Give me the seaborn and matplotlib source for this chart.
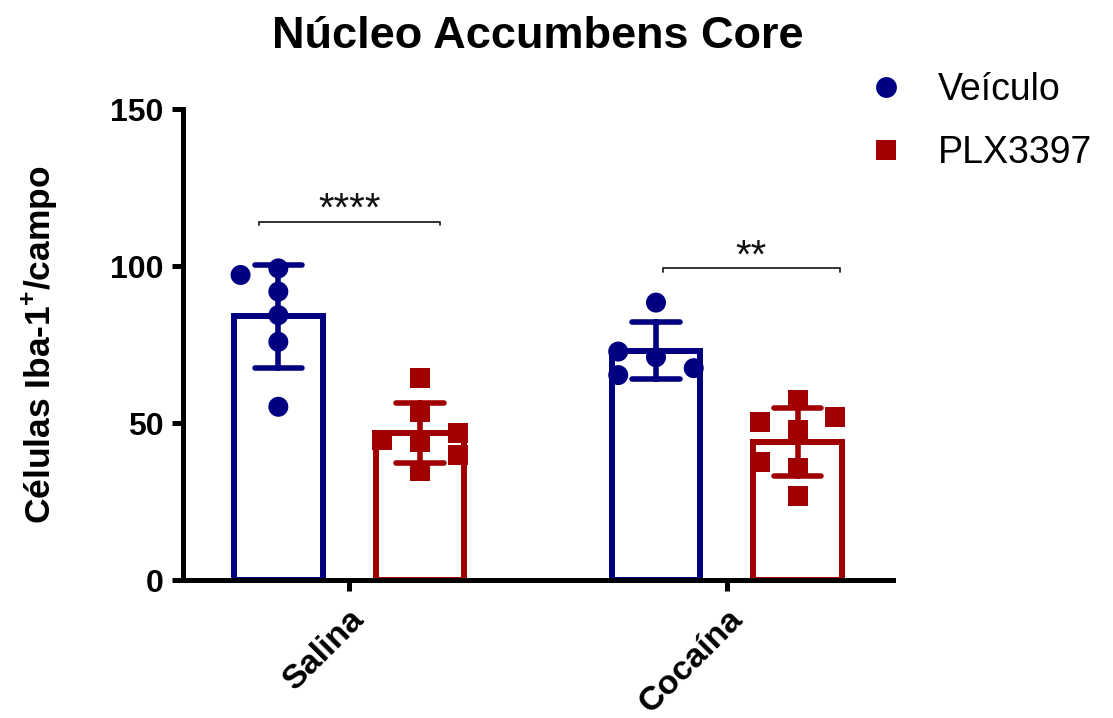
import numpy as np
import pandas as pd
import matplotlib
matplotlib.use("Agg")
import matplotlib.pyplot as plt
from matplotlib.lines import Line2D
import seaborn as sns

# Iba-1+ cell counts per field, Nucleus Accumbens Core
groups = ["Salina", "Cocaína"]
treatments = ["Veículo", "PLX3397"]
salina_veiculo = [99.3, 91.9, 84.4, 75.9, 55.2, 97.2]
salina_plx = [44.1, 53.6, 64.3, 44.6, 46.9, 39.8, 34.7]
cocaina_veiculo = [71.0, 88.4, 72.8, 67.5, 65.3]
cocaina_plx = [47.8, 35.6, 26.8, 50.4, 57.4, 52.0, 37.7]
y_ticks = [0, 50, 100, 150]

# significance annotations: label, bracket height, span around each group
sig_labels = ["****", "**"]
sig_heights = [114.2, 99.3]
sig_spans = [(-0.24, 0.24), (-0.17, 0.30)]

colors = {"Veículo": "#000080", "PLX3397": "#a00000"}
markers = {"Veículo": "o", "PLX3397": "s"}

sns.set_style("white")
plt.rcParams["font.family"] = ["Liberation Sans", "DejaVu Sans"]
plt.rcParams["mathtext.fontset"] = "custom"
plt.rcParams["mathtext.rm"] = "Liberation Sans"
plt.rcParams["mathtext.bf"] = "Liberation Sans:bold"
for key in ["text.color", "axes.labelcolor", "xtick.color", "ytick.color"]:
    plt.rcParams[key] = "black"

series = {
    ("Salina", "Veículo"): salina_veiculo,
    ("Salina", "PLX3397"): salina_plx,
    ("Cocaína", "Veículo"): cocaina_veiculo,
    ("Cocaína", "PLX3397"): cocaina_plx,
}
rows = []
for (g, t), vals in series.items():
    for v in vals:
        rows.append({"grupo": g, "tratamento": t, "celulas": v})
df = pd.DataFrame(rows)

fig = plt.figure(figsize=(11.13, 7.18), dpi=100)
ax = fig.add_axes([0.1644, 0.1922, 0.6379, 0.6556])

total_width = 0.75
sns.barplot(
    data=df, x="grupo", y="celulas", hue="tratamento",
    order=groups, hue_order=treatments, palette=colors,
    errorbar="sd", fill=False, width=total_width, gap=0.373,
    linewidth=4.3, capsize=0.25, err_kws={"linewidth": 4.0},
    legend=False, ax=ax,
)


def spread_lanes(values, min_gap, order=(0, -1, 1, -2, 2)):
    """Assign each point a column so that close values sit side by side."""
    placed = []
    lanes = []
    for v in values:
        for lane in order:
            if all(not (l == lane and abs(v - pv) < min_gap) for l, pv in placed):
                break
        placed.append((lane, v))
        lanes.append(lane)
    return lanes


dodge_w = total_width / len(treatments)
lane_step = 0.1
df["xpos"] = 0.0
for (g, t), vals in series.items():
    gi = groups.index(g)
    ti = treatments.index(t)
    center = gi + (ti - (len(treatments) - 1) / 2) * dodge_w
    lanes = spread_lanes(vals, 6.4)
    mask = (df["grupo"] == g) & (df["tratamento"] == t)
    df.loc[mask, "xpos"] = [center + l * lane_step for l in lanes]

sns.scatterplot(
    data=df, x="xpos", y="celulas", hue="tratamento", style="tratamento",
    hue_order=treatments, style_order=treatments, palette=colors,
    markers=markers, s=207, linewidth=0, legend=False, zorder=5, ax=ax,
)

# significance brackets
for gi, (lab, h, (a, b)) in enumerate(zip(sig_labels, sig_heights, sig_spans)):
    x0, x1 = gi + a, gi + b
    ax.plot([x0, x0, x1, x1], [h - 1.0, h, h, h - 1.0], color="#222222",
            linewidth=1.3, zorder=6, clip_on=False)
    ax.text((x0 + x1) / 2, h + 0.3, lab, ha="center", va="baseline",
            fontsize=29, color="#111111")

ax.set_xlim(-0.44, 1.44)
ax.set_ylim(0, 150)
ax.set_yticks(y_ticks)
ax.set_xticks(range(len(groups)))
ax.set_xticklabels(groups)
ax.set_xlabel("")
ax.set_ylabel(r"Células Iba-1$^{\mathbf{+}}$/campo", fontsize=25.5,
              fontweight="bold", labelpad=36)
ax.set_title("Núcleo Accumbens Core", fontsize=32.5, fontweight="bold", pad=44)

for side in ["top", "right"]:
    ax.spines[side].set_visible(False)
for side in ["left", "bottom"]:
    ax.spines[side].set_linewidth(3.6)
    ax.spines[side].set_color("black")

ax.tick_params(axis="both", which="major", direction="out", length=8,
               width=3.6, color="black", labelsize=23, pad=6,
               left=True, bottom=True)
ax.tick_params(axis="x", pad=9)
for lbl in ax.get_yticklabels():
    lbl.set_fontweight("bold")
for lbl in ax.get_xticklabels():
    lbl.set_fontweight("bold")
    lbl.set_fontsize(24.5)
    lbl.set_rotation(45)
    lbl.set_ha("right")
    lbl.set_va("top")
    lbl.set_rotation_mode("anchor")

handles = [
    Line2D([], [], linestyle="none", marker=markers[t], color=colors[t],
           markersize=15, markeredgewidth=0)
    for t in treatments
]
fig.legend(handles, treatments, loc="upper left",
           bbox_to_anchor=(867 / 1113, 1 - 72 / 718), frameon=False,
           fontsize=27, handlelength=1.0, handletextpad=0.9,
           labelspacing=0.72, borderpad=0, borderaxespad=0)

fig.savefig("out.png", dpi=100)
